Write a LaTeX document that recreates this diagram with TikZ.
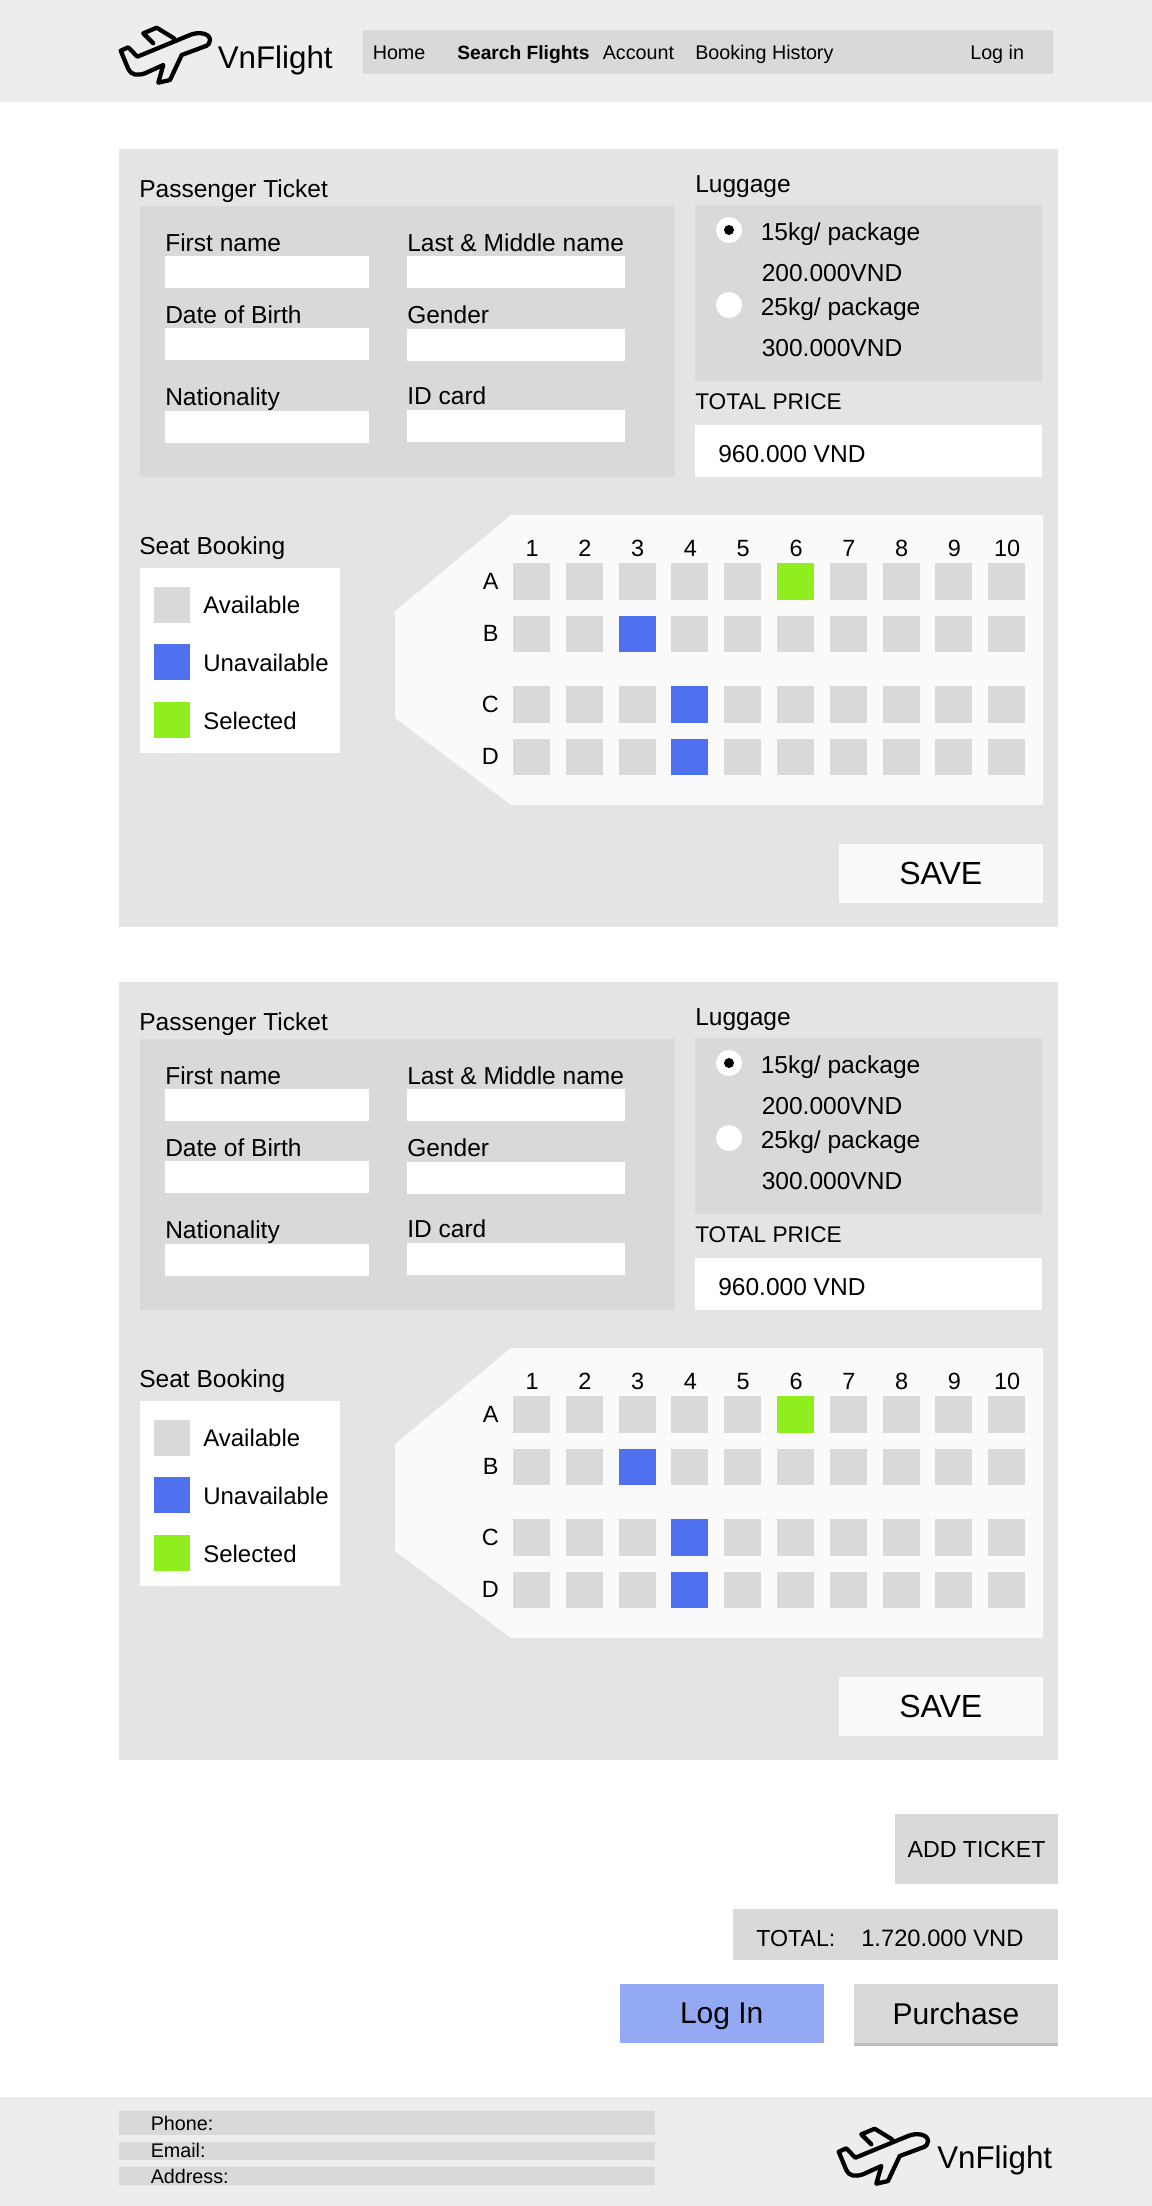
\documentclass[tikz,border=0pt]{standalone}
\usepackage{fontspec}
\setmainfont{Liberation Sans}
\usepackage{xcolor}
\usepackage{tikz}
\usetikzlibrary{positioning}

\definecolor{barcol}{HTML}{EDEDED}
\definecolor{cardcol}{HTML}{E4E4E4}
\definecolor{panelcol}{HTML}{D9D9D9}
\definecolor{cabincol}{HTML}{FAFAFA}
\definecolor{takencol}{HTML}{4F71F0}
\definecolor{pickedcol}{HTML}{90EE1E}
\definecolor{logincol}{HTML}{93A9F3}
\definecolor{shadowcol}{HTML}{BDBDBD}

\begin{document}
\begin{tikzpicture}[x=0.75pt, y=-0.75pt,
    sized/.style 2 args={minimum width=#1*0.75pt, minimum height=#2*0.75pt},
    seatA6/.style={fill=pickedcol},
    seatB3/.style={fill=takencol},
    seatC4/.style={fill=takencol},
    seatD4/.style={fill=takencol},
    pics/plane/.style={code={
        \draw [line width=3.2pt, line join=round, line cap=round] (0.7,23.7) -- (8.3,20.3) -- (17.3,29.7) -- (70,8)
            .. controls (78,4.5) and (90,6) .. (90,13) .. controls (90,16) and (88,18) .. (86.7,18.7)
            -- (61.7,28) -- (50,53) -- (38.3,55.7) -- (43.3,38) -- (25,46.3)
            .. controls (17,49) and (11,48) .. (8.3,42) -- cycle;
        \draw [line width=3.2pt, line join=round, line cap=round] (33.3,16.3) -- (23.3,6.3) -- (36.7,0.7) -- (54,11.3);
    }}]
    % Styles
    \tikzstyle{box} = [rectangle, anchor=north west, inner sep=0pt, outer sep=0pt]
    \tikzstyle{card} = [box, fill=cardcol]
    \tikzstyle{panel} = [box, fill=panelcol]
    \tikzstyle{field} = [box, fill=white]
    \tikzstyle{button} = [box, text depth=0pt, align=center]
    \tikzstyle{seat} = [box, fill=panelcol, sized={37}{36.5}]
    \tikzstyle{radio} = [circle, fill=white, inner sep=0pt, minimum size=19.5pt]
    \tikzstyle{navtext} = [anchor=base west, inner sep=0pt, font=\fontsize{14.8pt}{17pt}\selectfont]
    \tikzstyle{boldtext} = [navtext, font=\fontsize{14.4pt}{17pt}\selectfont\bfseries]
    \tikzstyle{captext} = [anchor=base west, inner sep=0pt, font=\fontsize{18.4pt}{21pt}\selectfont]
    \tikzstyle{legendtext} = [anchor=base west, inner sep=0pt, font=\fontsize{18pt}{21pt}\selectfont]
    \tikzstyle{sumtext} = [anchor=base west, inner sep=0pt, font=\fontsize{17pt}{21pt}\selectfont]
    \tikzstyle{logotext} = [anchor=base west, inner sep=0pt, font=\fontsize{23.5pt}{27pt}\selectfont]
    \tikzstyle{seattext} = [inner sep=0pt, font=\fontsize{17.6pt}{21pt}\selectfont]
    \tikzstyle{bigtext} = [font=\fontsize{22.5pt}{26pt}\selectfont]
    \tikzstyle{savetext} = [font=\fontsize{24pt}{28pt}\selectfont]
    \tikzstyle{midtext} = [font=\fontsize{17.4pt}{21pt}\selectfont]

    \useasboundingbox (0,0) rectangle (1152,2206);

    % Header
    \node [box, fill=barcol, sized={1152}{102}] (header) at (0,0) {};
    \node [panel, sized={690}{44}] (nav) at (363,30) {};
    \pic (toplogo) at (120,27) {plane};
    \node [logotext] (topbrand) at (217.5,68) {VnFlight};
    \node [navtext] (home) at (372.5,59) {Home};
    \node [boldtext] (search) at (457,59) {Search Flights};
    \node [navtext] (account) at (602.5,59) {Account};
    \node [navtext] (history) at (695,59) {Booking History};
    \node [navtext] (login) at (970,59) {Log in};

    % Ticket cards
    \foreach \cardy/\cardname in {0/a, 833/b} {
        \begin{scope}[shift={(0,\cardy)}]
            \node [card, sized={939}{778}] (card\cardname) at (119,149) {};

            % Passenger form
            \node [captext] (title\cardname) at (139,197) {Passenger Ticket};
            \node [panel, sized={535.5}{271}] (form\cardname) at (139.5,206) {};
            \foreach \fname/\ftext/\fx/\fw/\fbase/\ftop in {
                first/First name/165/204/251/256,
                last/Last \& Middle name/407/218/251/256,
                birth/Date of Birth/165/204/323/328,
                gender/Gender/407/218/323/329,
                nation/Nationality/165/204/405/411,
                idcard/ID card/407/218/404/410} {
                \node [captext] (\fname text\cardname) at (\fx,\fbase) {\ftext};
                \node [field, sized={\fw}{32}] (\fname\cardname) at (\fx,\ftop) {};
            }

            % Luggage
            \node [captext] (bag\cardname) at (695,192) {Luggage};
            \node [panel, sized={347}{176}] (bagbox\cardname) at (695,205) {};
            \node [radio] (radioone\cardname) at (729,230) {};
            \node [circle, fill=black, inner sep=0pt, minimum size=7.5pt] (dot\cardname) at (radioone\cardname) {};
            \node [radio] (radiotwo\cardname) at (729,305) {};
            \node [captext] (kgone\cardname) at (760.5,240) {15kg/ package};
            \node [captext] (priceone\cardname) at (761.5,281) {200.000VND};
            \node [captext] (kgtwo\cardname) at (760.5,315) {25kg/ package};
            \node [captext] (pricetwo\cardname) at (761.5,356) {300.000VND};

            % Total price
            \node [sumtext] (sum\cardname) at (695,409) {TOTAL PRICE};
            \node [field, sized={347}{52}] (sumbox\cardname) at (695,425) {};
            \node [captext] (sumtext\cardname) at (718,462) {960.000 VND};

            % Legend
            \node [captext] (seats\cardname) at (139,554) {Seat Booking};
            \node [field, sized={200.5}{185}] (legend\cardname) at (139.5,568) {};
            \foreach \lname/\ltext/\lcol/\ltop/\lbase in {
                free/Available/panelcol/587/613,
                taken/Unavailable/takencol/644/671,
                picked/Selected/pickedcol/702/729} {
                \node [box, fill=\lcol, sized={36}{36}] (\lname\cardname) at (154,\ltop) {};
                \node [legendtext] (\lname text\cardname) at (203,\lbase) {\ltext};
            }

            % Seats
            \draw [fill=cabincol, draw=none] (511,515) -- (1043,515) -- (1043,805) -- (511,805) -- (395,718) -- (395,611) -- cycle;
            \foreach \row/\rowy in {A/563, B/615.5, C/686, D/738.5} {
                \foreach \col [evaluate=\col as \seatx using {513+52.8*(\col-1)}] in {1,...,10} {
                    \node [seat, seat\row\col/.try] (seat\row\col\cardname) at (\seatx,\rowy) {};
                }
                \node [seattext, minimum width=12pt, left=10.5pt of seat\row1\cardname] (row\row\cardname) {\row};
            }
            \foreach \col in {1,...,10} {
                \node [seattext, above=4.5pt of seatA\col\cardname, xshift=0.4pt] (num\col\cardname) {\col};
            }

            \node [button, savetext, fill=cabincol, sized={204.5}{59}] (save\cardname) at (838.5,844) {SAVE};
        \end{scope}
    }

    % Checkout
    \node [button, panel, midtext, sized={163}{70}] (addticket) at (895,1814) {ADD TICKET};
    \node [panel, sized={325}{51}] (totalbox) at (733,1909) {};
    \node [anchor=base west, inner sep=0pt, midtext] (totaltext) at (756,1946) {TOTAL:};
    \node [anchor=base west, inner sep=0pt, midtext, font=\fontsize{17.8pt}{21pt}\selectfont] (totalprice) at (861,1946) {1.720.000 VND};
    \node [button, bigtext, fill=logincol, sized={203.5}{59}] (loginbtn) at (620,1984) {Log In};
    \node [box, fill=shadowcol, sized={204}{2.5}] (shadow) at (854,2043) {};
    \node [button, panel, bigtext, sized={204}{59}] (purchase) at (854,1984) {Purchase};

    % Footer
    \node [box, fill=barcol, sized={1152}{109}] (footer) at (0,2097) {};
    \node [panel, sized={536}{24}] (phonebar) at (119,2111) {};
    \node [panel, sized={536}{18}] (emailbar) at (119,2142) {};
    \node [panel, sized={536}{18}] (addressbar) at (119,2167) {};
    \node [navtext] (phone) at (150.5,2130) {Phone:};
    \node [navtext] (email) at (150.5,2157) {Email:};
    \node [navtext] (address) at (150.5,2183) {Address:};
    \pic (footlogo) at (838,2128) {plane};
    \node [logotext] (footbrand) at (937,2168) {VnFlight};
\end{tikzpicture}
\end{document}
